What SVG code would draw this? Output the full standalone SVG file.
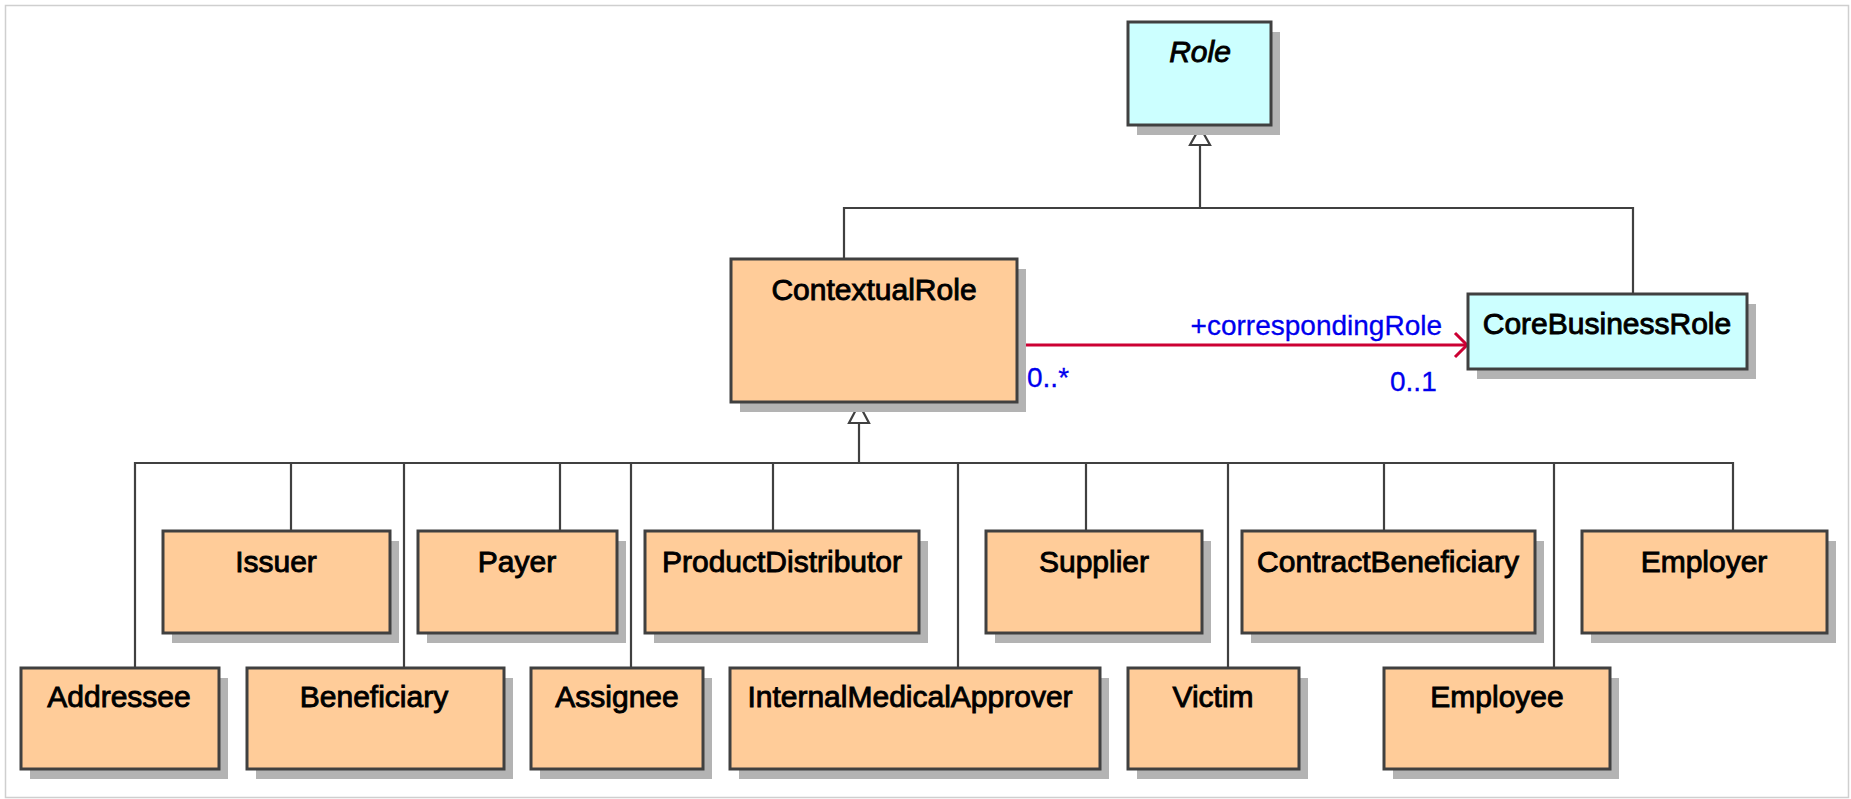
<svg xmlns="http://www.w3.org/2000/svg" width="1851" height="799" viewBox="0 0 1851 799">
<style>
.frame{fill:#fff;stroke:#cfcfcf;stroke-width:1.5}
.sh{fill:#b3b3b3}
.box{stroke:#404040;stroke-width:3}
.or{fill:#ffcc99}
.cy{fill:#ccffff}
.lbl{font-family:"Liberation Sans",Arial,sans-serif;font-size:30px;fill:#000;text-anchor:middle;stroke:#000;stroke-width:0.9}
.it{font-style:italic}
.con{fill:none;stroke:#404040;stroke-width:2.2}
.gen{fill:#fff;stroke:#404040;stroke-width:2.2}
.assoc{fill:none;stroke:#cc0033;stroke-width:3}
.role{font-family:"Liberation Sans",Arial,sans-serif;font-size:28px;fill:#0000ee;stroke:#0000ee;stroke-width:0.3}
</style>
<rect class="frame" x="5.5" y="5.5" width="1843" height="792"/>
<g id="connectors">
<path class="con" d="M1200 145V208"/>
<path class="con" d="M844 259V208H1633V294"/>
<path class="con" d="M859 423V463"/>
<path class="con" d="M135 668V463H1733V531"/>
<path class="con" d="M291 463V531M404 463V668M560 463V531M631 463V668M773 463V531M958 463V668M1086 463V531M1228 463V668M1384 463V531M1554 463V668"/>
<polygon class="gen" points="1200,127 1210,145 1190,145"/>
<polygon class="gen" points="859,404 869,423 849,423"/>
<path class="assoc" d="M1017 345H1466"/>
<polyline class="assoc" points="1455,333 1467,345 1455,357"/>
<text class="role" x="1442" y="335" text-anchor="end">+correspondingRole</text>
<text class="role" x="1027" y="387">0..*</text>
<text class="role" x="1390" y="391">0..1</text>
</g>
<g id="Role"><rect class="sh" x="1137" y="32" width="143" height="103"/><rect class="box cy" x="1128" y="22" width="143" height="103"/><text class="lbl it" x="1200" y="62">Role</text></g>
<g id="ContextualRole"><rect class="sh" x="740" y="269" width="286" height="143"/><rect class="box or" x="731" y="259" width="286" height="143"/><text class="lbl" x="874" y="300">ContextualRole</text></g>
<g id="CoreBusinessRole"><rect class="sh" x="1477" y="304" width="279" height="75"/><rect class="box cy" x="1468" y="294" width="279" height="75"/><text class="lbl" x="1607" y="334">CoreBusinessRole</text></g>
<g id="Issuer"><rect class="sh" x="172" y="541" width="227" height="102"/><rect class="box or" x="163" y="531" width="227" height="102"/><text class="lbl" x="276" y="572">Issuer</text></g>
<g id="Payer"><rect class="sh" x="427" y="541" width="199" height="102"/><rect class="box or" x="418" y="531" width="199" height="102"/><text class="lbl" x="517" y="572">Payer</text></g>
<g id="ProductDistributor"><rect class="sh" x="654" y="541" width="274" height="102"/><rect class="box or" x="645" y="531" width="274" height="102"/><text class="lbl" x="782" y="572">ProductDistributor</text></g>
<g id="Supplier"><rect class="sh" x="995" y="541" width="216" height="102"/><rect class="box or" x="986" y="531" width="216" height="102"/><text class="lbl" x="1094" y="572">Supplier</text></g>
<g id="ContractBeneficiary"><rect class="sh" x="1251" y="541" width="293" height="102"/><rect class="box or" x="1242" y="531" width="293" height="102"/><text class="lbl" x="1388" y="572">ContractBeneficiary</text></g>
<g id="Employer"><rect class="sh" x="1591" y="541" width="245" height="102"/><rect class="box or" x="1582" y="531" width="245" height="102"/><text class="lbl" x="1704" y="572">Employer</text></g>
<g id="Addressee"><rect class="sh" x="30" y="678" width="198" height="101"/><rect class="box or" x="21" y="668" width="198" height="101"/><text class="lbl" x="119" y="707">Addressee</text></g>
<g id="Beneficiary"><rect class="sh" x="256" y="678" width="257" height="101"/><rect class="box or" x="247" y="668" width="257" height="101"/><text class="lbl" x="374" y="707">Beneficiary</text></g>
<g id="Assignee"><rect class="sh" x="540" y="678" width="172" height="101"/><rect class="box or" x="531" y="668" width="172" height="101"/><text class="lbl" x="617" y="707">Assignee</text></g>
<g id="InternalMedicalApprover"><rect class="sh" x="739" y="678" width="370" height="101"/><rect class="box or" x="730" y="668" width="370" height="101"/><text class="lbl" x="910" y="707">InternalMedicalApprover</text></g>
<g id="Victim"><rect class="sh" x="1137" y="678" width="171" height="101"/><rect class="box or" x="1128" y="668" width="171" height="101"/><text class="lbl" x="1213" y="707">Victim</text></g>
<g id="Employee"><rect class="sh" x="1393" y="678" width="226" height="101"/><rect class="box or" x="1384" y="668" width="226" height="101"/><text class="lbl" x="1497" y="707">Employee</text></g>
</svg>
